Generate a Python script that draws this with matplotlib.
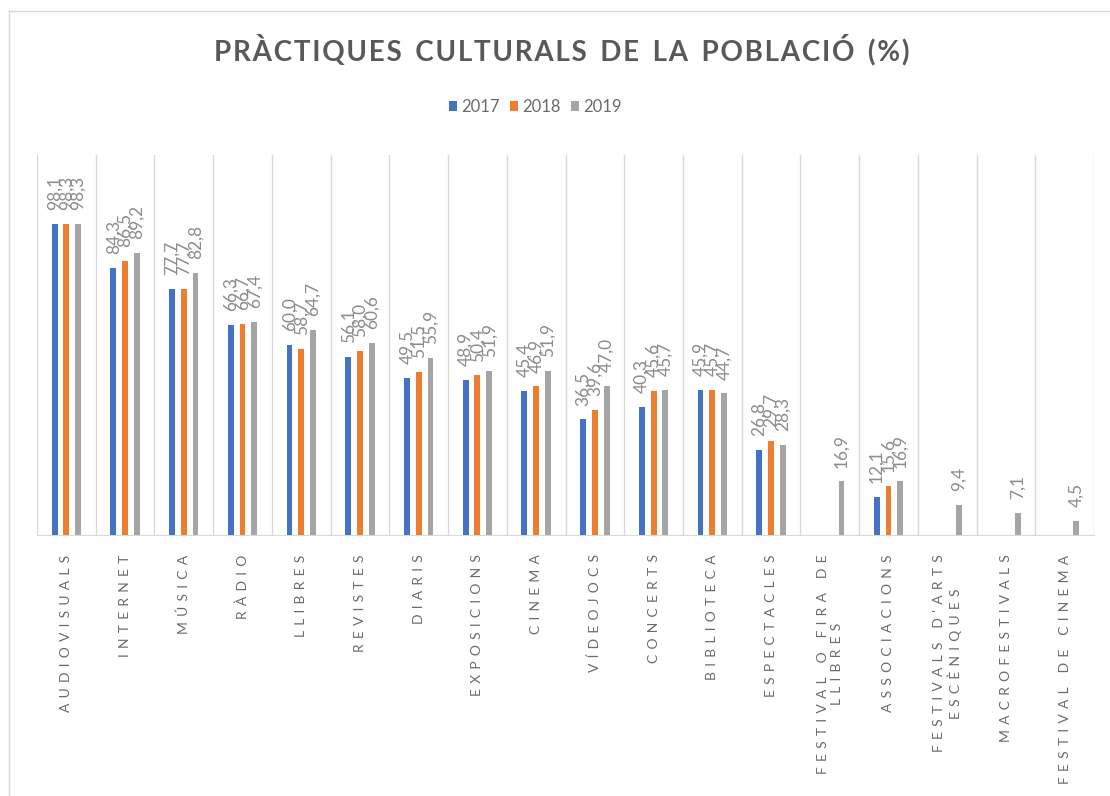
import matplotlib
matplotlib.use("Agg")
import matplotlib.pyplot as plt
from matplotlib.lines import Line2D
import numpy as np

plt.rcParams['font.family'] = ['Lato', 'DejaVu Sans']

categories = ['AUDIOVISUALS', 'INTERNET', 'MÚSICA', 'RÀDIO', 'LLIBRES', 'REVISTES',
              'DIARIS', 'EXPOSICIONS', 'CINEMA', 'VÍDEOJOCS', 'CONCERTS', 'BIBLIOTECA',
              'ESPECTACLES', 'FESTIVAL O FIRA DE\nLLIBRES', 'ASSOCIACIONS',
              "FESTIVALS D'ARTS\nESCÈNIQUES", 'MACROFESTIVALS', 'FESTIVAL DE CINEMA']
years = ['2017', '2018', '2019']
v2017 = [98.1, 84.3, 77.7, 66.3, 60.0, 56.1, 49.5, 48.9, 45.4, 36.5, 40.3, 45.9,
         26.8, None, 12.1, None, None, None]
v2018 = [98.3, 86.5, 77.7, 66.7, 58.7, 58.0, 51.5, 50.4, 46.9, 39.6, 45.6, 45.7,
         29.7, None, 15.6, None, None, None]
v2019 = [98.3, 89.2, 82.8, 67.4, 64.7, 60.6, 55.9, 51.9, 51.9, 47.0, 45.7, 44.7,
         28.3, 16.9, 16.9, 9.4, 7.1, 4.5]
colors = ['#4472C4', '#ED7D31', '#A5A5A5']

txt_col = '#6b6b6b'


def spaced(label, gap=' \u2009', wgap='    '):
    # fake letter spacing, like the excel chart
    lines = []
    for line in label.split('\n'):
        words = [gap.join(w) for w in line.split(' ')]
        lines.append(wgap.join(words))
    return '\n'.join(lines)


fig = plt.figure(figsize=(11.1, 7.96), dpi=100)
ax = fig.add_axes([37 / 1110, 1 - 535 / 796, (1094 - 37) / 1110, (535 - 155) / 796])

x = np.arange(len(categories))
width = 0.1
offsets = [-0.2, 0.0, 0.2]
for vals, off, col, yr in zip([v2017, v2018, v2019], offsets, colors, years):
    xs = [xi + off for xi, v in zip(x, vals) if v is not None]
    hs = [v for v in vals if v is not None]
    ax.bar(xs, hs, width=width, color=col, label=yr, zorder=3)
    for xi, h in zip(xs, hs):
        ax.annotate(f'{h:.1f}'.replace('.', ','), (xi, h), xytext=(0, 10),
                    textcoords='offset points', rotation=90, ha='center', va='bottom',
                    fontsize=12.5, color='#8c8c8c')

ax.set_xlim(-0.5, len(categories) - 0.5)
ax.set_ylim(0, 120)
ax.set_yticks([])
ax.set_xticks(x)
ax.set_xticklabels([spaced(c) for c in categories], rotation=90, fontsize=10,
                   color=txt_col, multialignment='center')
ax.tick_params(axis='x', length=0, pad=14)
for b in np.arange(-0.5, len(categories) + 0.5, 1):
    ax.axvline(b, color='#d9d9d9', lw=1, zorder=1)
for s in ['top', 'right', 'left']:
    ax.spines[s].set_visible(False)
ax.spines['bottom'].set_color('#d9d9d9')

fig.text(562 / 1110, 1 - 50 / 796,
         spaced('PRÀCTIQUES CULTURALS DE LA POBLACIÓ (%)', gap='\u200a', wgap='  '),
         ha='center', va='center', fontsize=20, fontweight='bold', color='#595959')
fig.legend(loc='center', bbox_to_anchor=(535 / 1110, 1 - 107 / 796), ncol=3,
           frameon=False, fontsize=12, handlelength=0.5, handleheight=0.55,
           handletextpad=0.25, columnspacing=0.6, labelcolor=txt_col)

# chart border
fig.add_artist(Line2D([9 / 1110, 9 / 1110], [0, 1 - 11 / 796], color='#d9d9d9', lw=1))
fig.add_artist(Line2D([9 / 1110, 1], [1 - 11 / 796, 1 - 11 / 796], color='#d9d9d9', lw=1))

fig.savefig('out.png', dpi=100)
